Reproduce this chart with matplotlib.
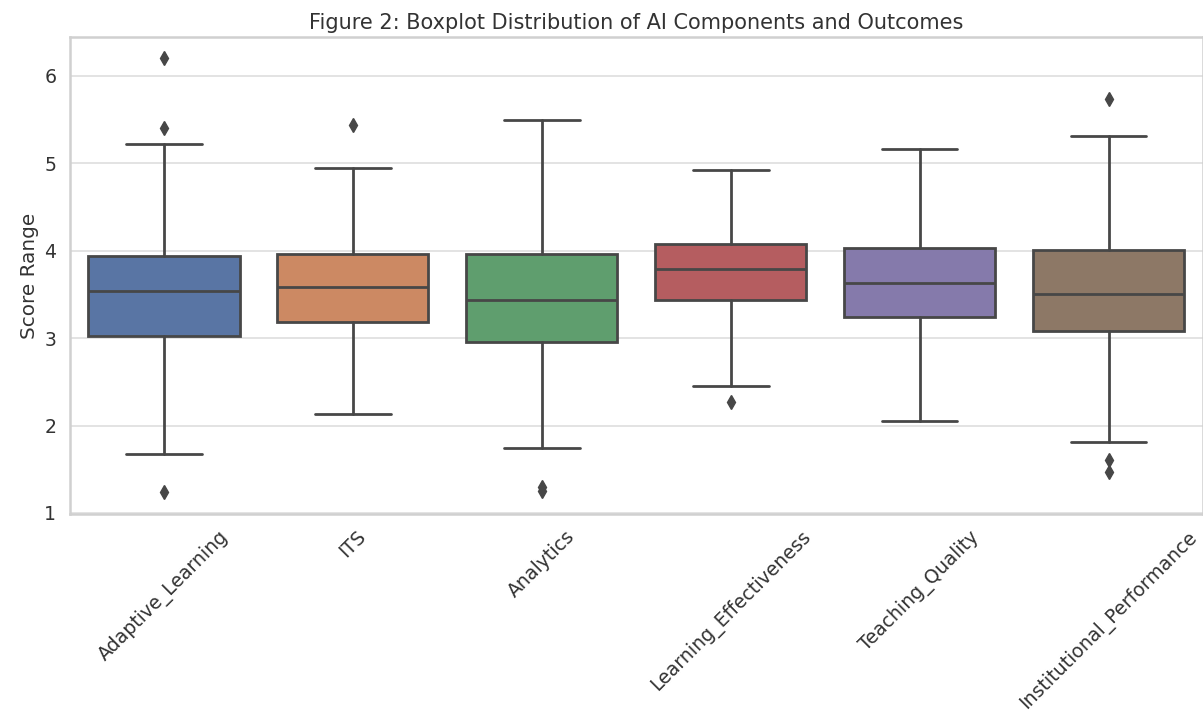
import matplotlib
matplotlib.use("Agg")
import matplotlib.pyplot as plt
import seaborn as sns

# summary statistics per variable (read as five-number summary + fliers)
categories = ["Adaptive_Learning", "ITS", "Analytics",
              "Learning_Effectiveness", "Teaching_Quality",
              "Institutional_Performance"]
whisker_low = [1.675, 2.13, 1.74, 2.45, 2.05, 1.81]
q1 = [3.03, 3.19, 2.96, 3.44, 3.24, 3.08]
medians = [3.54, 3.59, 3.44, 3.79, 3.63, 3.51]
q3 = [3.94, 3.96, 3.96, 4.08, 4.03, 4.01]
whisker_high = [5.22, 4.95, 5.50, 4.92, 5.16, 5.31]
outliers = [[6.21, 5.40, 1.24], [5.44], [1.30, 1.25], [2.27], [], [5.74, 1.61, 1.47]]

sns.set_theme(style="whitegrid")
palette = sns.color_palette("deep", len(categories), desat=0.75)
line_gray = "#474747"
lw = 2.0

stats = []
for i, name in enumerate(categories):
    stats.append(dict(label=name, med=medians[i], q1=q1[i], q3=q3[i],
                      whislo=whisker_low[i], whishi=whisker_high[i],
                      fliers=outliers[i]))

fig = plt.figure(figsize=(12.03, 7.15), dpi=100)
ax = fig.add_axes([0.0578, 0.2811, 0.9422, 0.6672])

bp = ax.bxp(stats, positions=range(len(categories)), widths=0.8,
            capwidths=0.4, patch_artist=True, showfliers=True,
            boxprops=dict(edgecolor=line_gray, linewidth=lw),
            medianprops=dict(color=line_gray, linewidth=lw),
            whiskerprops=dict(color=line_gray, linewidth=lw),
            capprops=dict(color=line_gray, linewidth=lw),
            flierprops=dict(marker="d", markersize=7.2,
                            markerfacecolor=line_gray,
                            markeredgecolor=line_gray))
for patch, color in zip(bp["boxes"], palette):
    patch.set_facecolor(color)

ax.set_xlim(-0.5, len(categories) - 0.5)
ax.set_ylim(0.988, 6.446)
ax.set_yticks([1, 2, 3, 4, 5, 6])
ax.set_xticks(range(len(categories)))
ax.set_xticklabels(categories, rotation=45, fontsize=13.6, color="#333333")
ax.tick_params(axis="y", labelsize=13.6, labelcolor="#333333")
ax.set_ylabel("Score Range", fontsize=14.4, color="#333333")
ax.set_title("Figure 2: Boxplot Distribution of AI Components and Outcomes",
             fontsize=15, color="#333333")
ax.xaxis.grid(False)
ax.yaxis.grid(True, color="#e3e3e3", linewidth=1.4)
for spine in ax.spines.values():
    spine.set_color("#d0d0d0")
    spine.set_linewidth(1.8)

fig.savefig("out.png", dpi=100)
